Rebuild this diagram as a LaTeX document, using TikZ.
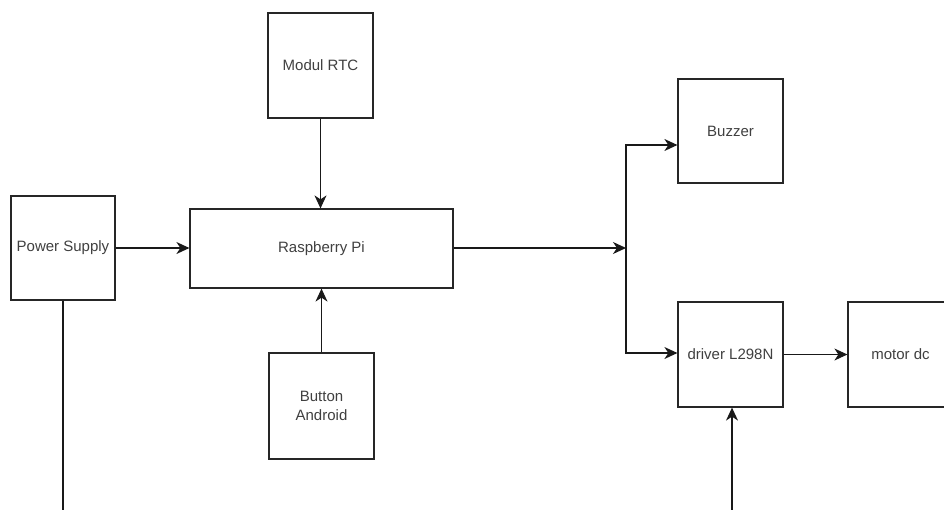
\documentclass[tikz,border=0pt]{standalone}
\usepackage{fontspec}
\setmainfont{Liberation Sans}
\usetikzlibrary{arrows.meta}
\begin{document}
\begin{tikzpicture}[x=1pt,y=-1pt,
  box/.style={draw=black!85,line width=1.2pt,fill=white,inner sep=2pt,align=center,
     text=black!75,font=\fontsize{15}{19}\selectfont},
  conn/.style={draw=black!90,line width=1.2pt,-{Stealth[length=13pt,width=12pt,inset=4pt]}},
  plain/.style={draw=black!90,line width=1.2pt}]
\useasboundingbox (0,0) rectangle (944,509);
\node[box,minimum width=104pt,minimum height=104pt] (ps) at (63,248) {Power Supply};
\node[box,minimum width=105pt,minimum height=105pt] (rtc) at (320.5,65.5) {Modul RTC};
\node[box,minimum width=263pt,minimum height=79pt] (rpi) at (321.5,248.5) {Raspberry Pi};
\node[box,minimum width=105pt,minimum height=106pt] (btn) at (321.5,406) {Button\\Android};
\node[box,minimum width=105pt,minimum height=104pt] (buz) at (730.5,131) {Buzzer};
\node[box,minimum width=105pt,minimum height=105pt] (drv) at (730.5,354.5) {driver L298N};
\node[box,minimum width=105pt,minimum height=105pt] (mot) at (900.5,354.5) {motor dc};
\coordinate (j) at (626,248);
\coordinate (psend) at (63,512);
\coordinate (drvend) at (732,512);
\draw[conn] (ps.east) -- (ps.east -| rpi.west);
\draw[conn] (rtc.south) -- (rtc.south |- rpi.north);
\draw[conn] (btn.north) -- (btn.north |- rpi.south);
\draw[conn] (rpi.east |- j) -- (j);
\draw[conn] (j) -- (626,145) -- (buz.west |- 0,145);
\draw[conn] (j) -- (626,353) -- (drv.west |- 0,353);
\draw[conn] (drv.east) -- (mot.west);
\draw[plain] (ps.south) -- (psend);
\draw[conn] (drvend) -- (drvend |- drv.south);
\end{tikzpicture}
\end{document}
